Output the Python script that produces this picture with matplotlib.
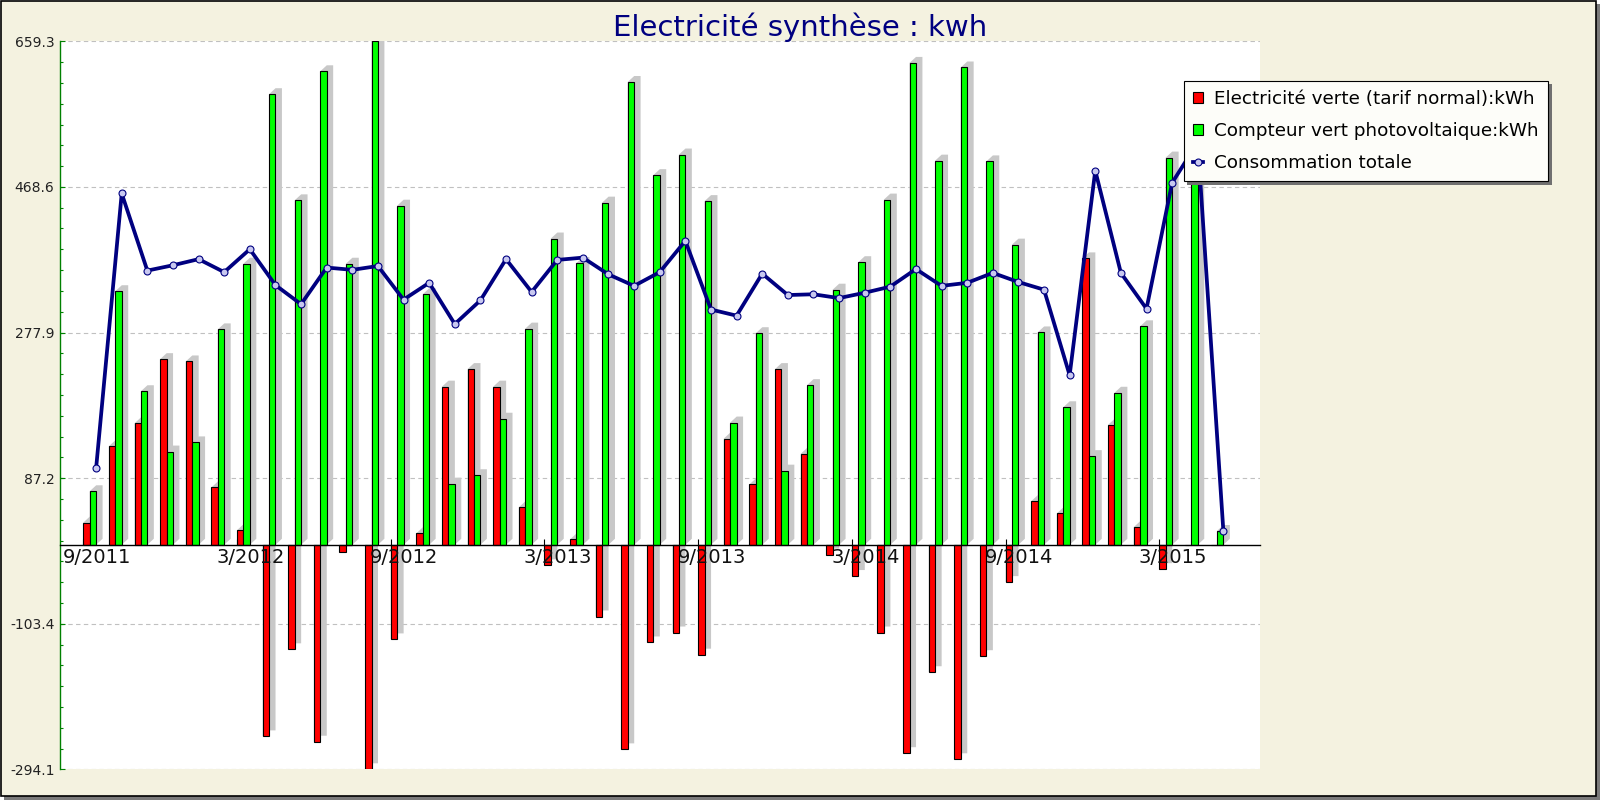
"""Electricité synthèse : kwh  -> out.png (1600x800)."""

import numpy as np
import matplotlib
matplotlib.use("Agg")
import matplotlib.pyplot as plt
from matplotlib.patches import Polygon, Rectangle
from matplotlib.lines import Line2D
from matplotlib.ticker import FixedLocator
from matplotlib.transforms import ScaledTranslation

# ------------------------------- DATA -------------------------------
months = ["9/2011", "10/2011", "11/2011", "12/2011", "1/2012", "2/2012",
          "3/2012", "4/2012", "5/2012", "6/2012", "7/2012", "8/2012",
          "9/2012", "10/2012", "11/2012", "12/2012", "1/2013", "2/2013",
          "3/2013", "4/2013", "5/2013", "6/2013", "7/2013", "8/2013",
          "9/2013", "10/2013", "11/2013", "12/2013", "1/2014", "2/2014",
          "3/2014", "4/2014", "5/2014", "6/2014", "7/2014", "8/2014",
          "9/2014", "10/2014", "11/2014", "12/2014", "1/2015", "2/2015",
          "3/2015", "4/2015", "5/2015"]

elec_verte = [29, 129, 159, 243, 240, 75, 19, -251, -137, -258, -10, -294.1,
              -124, 15, 207, 230, 207, 49, -27, 7, -94, -268, -128, -115,
              -144, 139, 79, 230, 119, -13, -41, -115, -273, -167, -281, -146,
              -49, 57, 41, 375, 157, 23, -32, 0, 0]

photovoltaique = [70, 332, 201, 122, 134, 282, 368, 590, 451, 620, 368, 659.3,
                  444, 328, 80, 91, 165, 283, 401, 369, 448, 606, 484, 511,
                  450, 160, 277, 97, 209, 334, 370, 452, 631, 503, 625, 502,
                  393, 278, 180, 116, 199, 286, 507, 528, 18]

conso_totale = [100, 460, 359, 366, 374, 357, 387, 340, 315, 363, 360, 365,
                321, 343, 289, 320, 374, 331, 373, 376, 354, 339, 357, 398,
                308, 300, 355, 327, 328, 323, 330, 338, 361, 339, 343, 356,
                344, 334, 222, 490, 356, 309, 474, 527, 18]

tick_months = ["9/2011", "3/2012", "9/2012", "3/2013", "9/2013", "3/2014",
               "9/2014", "3/2015"]
y_ticks = [-294.1, -103.4, 87.2, 277.9, 468.6, 659.3]
y_labels = ["-294.1", "-103.4", "87.2", "277.9", "468.6", "659.3"]

labels = ["Electricité verte (tarif normal):kWh",
          "Compteur vert photovoltaique:kWh",
          "Consommation totale"]

# ------------------------------- STYLE -------------------------------
RED = "#ff0000"
GREEN = "#00ff00"
NAVY = "#000080"
SHADE = "#c8c8c8"
BEIGE = "#f4f2e0"
AXGREEN = "#008000"
W, H = 1600, 800
BW = 0.25          # bar width, in months

plt.rcParams["font.family"] = ["DejaVu Sans"]

fig = plt.figure(figsize=(W / 100, H / 100), dpi=100)
fig.patch.set_facecolor("white")
fig.patches.append(Rectangle((4 / W, 0), 1 - 4 / W, 1 - 4 / H, transform=fig.transFigure,
                             facecolor="#7a7a7a", edgecolor="none", zorder=-2))
fig.patches.append(Rectangle((0.5 / W, 4 / H), 1 - 4.5 / W, 1 - 4.5 / H, transform=fig.transFigure,
                             facecolor=BEIGE, edgecolor="black", lw=1.2, zorder=-1))

ax = fig.add_axes([60 / W, 30.7 / H, 1200 / W, 728 / H])
ax.set_facecolor("white")
ax.set_xlim(-0.909, 45.93)
ax.set_ylim(y_ticks[0], y_ticks[-1])
ax.set_axisbelow(False)

x = np.arange(len(months))

# 3D-ish shadow offset: ~6.5 px right, 6 px up
sx = 6.5 * (ax.get_xlim()[1] - ax.get_xlim()[0]) / ax.bbox.width
sy = 6.0 * (ax.get_ylim()[1] - ax.get_ylim()[0]) / ax.bbox.height


def shadow(x0, h):
    if h == 0:
        return
    x1 = x0 + BW
    pts = [(x0, h), (x0 + sx, h + sy), (x1 + sx, h + sy), (x1 + sx, sy), (x1, 0), (x0, 0)]
    ax.add_patch(Polygon(pts, closed=True, facecolor=SHADE, edgecolor="none", zorder=1))


for xi, r, g in zip(x, elec_verte, photovoltaique):
    shadow(xi, r)
    shadow(xi + BW, g)

for yv in y_ticks:
    ax.axhline(yv, color="#c0c0c0", lw=0.8, ls=(0, (4, 3)), zorder=0.5)

ax.bar(x, elec_verte, BW, align="edge", color=RED, edgecolor="black", lw=0.8, zorder=2)
ax.bar(x + BW, photovoltaique, BW, align="edge", color=GREEN, edgecolor="black", lw=0.8, zorder=2)
ax.plot(x + 2 * BW, conso_totale, color=NAVY, lw=2.7, marker="o", ms=5,
        mfc="#c8c8f0", mec=NAVY, mew=0.8, zorder=4, solid_joinstyle="round")

# axes / ticks
for s in ("top", "right"):
    ax.spines[s].set_visible(False)
ax.spines["bottom"].set_position(("data", 0))
ax.spines["bottom"].set_color("black")
ax.spines["bottom"].set_linewidth(1)
ax.spines["left"].set_color(AXGREEN)
ax.spines["left"].set_linewidth(1)

ax.set_xticks([months.index(m) for m in tick_months], tick_months)
ax.tick_params(axis="x", direction="in", length=4, width=0.8, color="black",
               labelsize=14, labelcolor="#111111", pad=2)
off = ScaledTranslation(0.135, 0, fig.dpi_scale_trans)
for lab in ax.get_xticklabels():
    lab.set_transform(lab.get_transform() + off)

ax.set_yticks(y_ticks, y_labels)
ax.yaxis.set_minor_locator(FixedLocator(np.linspace(y_ticks[0], y_ticks[-1], 36)))
ax.tick_params(axis="y", which="major", direction="in", length=3.5, width=0.8,
               color=AXGREEN, labelsize=10, labelcolor="#222222", pad=4)
ax.tick_params(axis="y", which="minor", direction="in", length=2.2, width=0.8, color=AXGREEN)

fig.text(0.5, 1 - 36 / H, "Electricité synthèse : kwh", ha="center", va="baseline",
         fontsize=21, color=NAVY)

handles = [Rectangle((0, 0), 1, 1, facecolor=RED, edgecolor="black", lw=0.8),
           Rectangle((0, 0), 1, 1, facecolor=GREEN, edgecolor="black", lw=0.8),
           Line2D([], [], color=NAVY, lw=2.7, marker="o", ms=5, mfc="#c8c8f0", mec=NAVY, mew=0.8)]
leg = ax.legend(handles, labels, loc="upper left", bbox_to_anchor=(1184 / W, 1 - 81 / H),
                bbox_transform=fig.transFigure, borderaxespad=0, fontsize=13.2,
                fancybox=False, edgecolor="black", facecolor="#fdfdf9", framealpha=1,
                shadow={"ox": 2.5, "oy": -2.5, "facecolor": "#707070", "edgecolor": "none", "alpha": 1},
                handlelength=0.55, handleheight=0.55, handletextpad=0.6,
                labelspacing=0.76, borderpad=0.5)
leg.get_frame().set_linewidth(0.8)

fig.savefig("out.png", dpi=100, facecolor=fig.get_facecolor())
